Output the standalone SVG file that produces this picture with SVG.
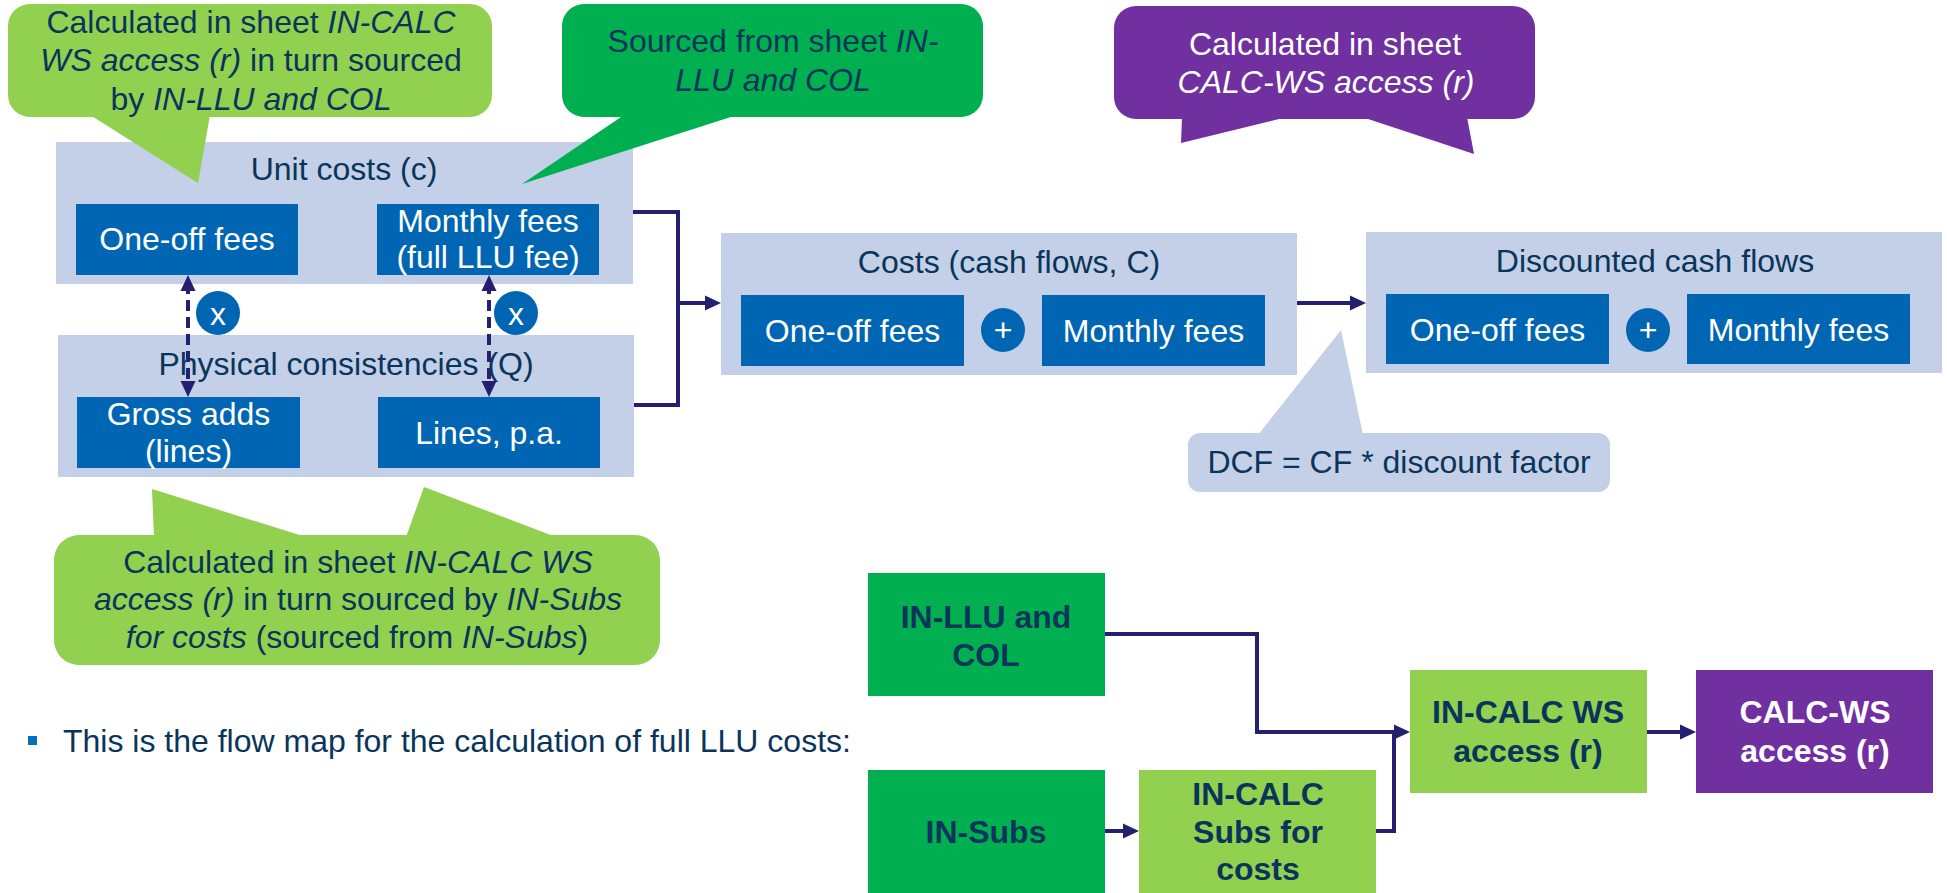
<svg xmlns="http://www.w3.org/2000/svg" width="1947" height="893" viewBox="0 0 1947 893">
  <style>
    text { font-family: "Liberation Sans", Arial, sans-serif; font-size: 32px; text-anchor: middle; }
    .dk { fill: #0a355b; }
    .wt { fill: #ffffff; }
    .b { font-weight: bold; }
    .i { font-style: italic; }
    .panel { fill: #c4cfe8; }
    .blue { fill: #0066b3; }
    .lgreen { fill: #92d050; }
    .green { fill: #00b050; }
    .purple { fill: #7030a0; }
    .link { fill: none; stroke: #241f6f; stroke-width: 4; }
    .dash { stroke-dasharray: 11 6; }
  </style>
  <defs>
    <marker id="arrow" markerUnits="userSpaceOnUse" viewBox="0 0 16 16" refX="8" refY="8" markerWidth="16" markerHeight="16" orient="auto-start-reverse">
      <path d="M0,0.5 L16,8 L0,15.5 Z" fill="#241f6f"/>
    </marker>
  </defs>

  <!-- Unit costs panel -->
  <g id="unit-costs">
    <rect class="panel" x="56" y="142" width="577" height="142"/>
    <text class="dk" x="344" y="180">Unit costs (c)</text>
    <rect class="blue" x="76" y="204" width="222" height="71"/>
    <text class="wt" x="187" y="250">One-off fees</text>
    <rect class="blue" x="377" y="204" width="222" height="71"/>
    <text class="wt" x="488" y="232">Monthly fees</text>
    <text class="wt" x="488" y="268">(full LLU fee)</text>
  </g>

  <!-- Physical consistencies panel -->
  <g id="physical-consistencies">
    <rect class="panel" x="58" y="335" width="576" height="142"/>
    <text class="dk" x="346" y="375">Physical consistencies (Q)</text>
    <rect class="blue" x="77" y="397" width="223" height="71"/>
    <text class="wt" x="188.5" y="425">Gross adds</text>
    <text class="wt" x="188.5" y="462">(lines)</text>
    <rect class="blue" x="378" y="397" width="222" height="71"/>
    <text class="wt" x="489" y="444">Lines, p.a.</text>
  </g>

  <!-- Costs panel -->
  <g id="costs">
    <rect class="panel" x="721" y="233" width="576" height="142"/>
    <text class="dk" x="1009" y="273">Costs (cash flows, C)</text>
    <rect class="blue" x="741" y="295" width="223" height="71"/>
    <text class="wt" x="852.5" y="342">One-off fees</text>
    <circle class="blue" cx="1003" cy="330" r="22"/>
    <text class="wt" x="1003" y="341">+</text>
    <rect class="blue" x="1042" y="295" width="223" height="71"/>
    <text class="wt" x="1153.5" y="342">Monthly fees</text>
  </g>

  <!-- Discounted cash flows panel -->
  <g id="discounted-cash-flows">
    <rect class="panel" x="1366" y="232" width="576" height="141"/>
    <text class="dk" x="1655" y="272">Discounted cash flows</text>
    <rect class="blue" x="1386" y="294" width="223" height="70"/>
    <text class="wt" x="1497.5" y="341">One-off fees</text>
    <circle class="blue" cx="1648" cy="330" r="22"/>
    <text class="wt" x="1648" y="341">+</text>
    <rect class="blue" x="1687" y="294" width="223" height="70"/>
    <text class="wt" x="1798.5" y="341">Monthly fees</text>
  </g>

  <!-- Bottom flow of sheets -->
  <g id="in-llu-col">
    <rect class="green" x="868" y="573" width="237" height="123"/>
    <text class="dk b" x="986" y="628">IN-LLU and</text>
    <text class="dk b" x="986" y="666">COL</text>
  </g>
  <g id="in-subs">
    <rect class="green" x="868" y="770" width="237" height="123"/>
    <text class="dk b" x="986" y="843">IN-Subs</text>
  </g>
  <g id="in-calc-subs">
    <rect class="lgreen" x="1139" y="770" width="237" height="123"/>
    <text class="dk b" x="1258" y="805">IN-CALC</text>
    <text class="dk b" x="1258" y="843">Subs for</text>
    <text class="dk b" x="1258" y="880">costs</text>
  </g>
  <g id="in-calc-ws">
    <rect class="lgreen" x="1410" y="670" width="237" height="123"/>
    <text class="dk b" x="1528" y="723">IN-CALC WS</text>
    <text class="dk b" x="1528" y="762">access (r)</text>
  </g>
  <g id="calc-ws">
    <rect class="purple" x="1696" y="670" width="237" height="123"/>
    <text class="wt b" x="1815" y="723">CALC-WS</text>
    <text class="wt b" x="1815" y="762">access (r)</text>
  </g>

  <!-- Connectors -->
  <g id="connectors">
    <path class="link" d="M633,212 H678 V405 H634"/>
    <path class="link" d="M678,303 H713" marker-end="url(#arrow)"/>
    <path class="link" d="M1297,303 H1358" marker-end="url(#arrow)"/>
    <path class="link dash" d="M188,283 V389" marker-start="url(#arrow)" marker-end="url(#arrow)"/>
    <path class="link dash" d="M489,283 V389" marker-start="url(#arrow)" marker-end="url(#arrow)"/>
    <path class="link" d="M1105,634 H1257 V732 H1402" marker-end="url(#arrow)"/>
    <path class="link" d="M1376,831 H1394 V732"/>
    <path class="link" d="M1105,831 H1131" marker-end="url(#arrow)"/>
    <path class="link" d="M1647,732 H1688" marker-end="url(#arrow)"/>
  </g>

  <!-- Multiplication markers -->
  <g id="times-left">
    <circle class="blue" cx="218" cy="313" r="22"/>
    <text class="wt" x="218" y="325">x</text>
  </g>
  <g id="times-right">
    <circle class="blue" cx="516" cy="313" r="22"/>
    <text class="wt" x="516" y="325">x</text>
  </g>

  <!-- Callouts -->
  <g id="note-unit-one-off">
    <rect class="lgreen" x="8" y="4" width="484" height="113" rx="22"/>
    <polygon class="lgreen" points="90,115 198,183 210,115"/>
    <text class="dk" x="251" y="33">Calculated in sheet <tspan class="i">IN-CALC</tspan></text>
    <text class="dk" x="251" y="71"><tspan class="i">WS access (r)</tspan> in turn sourced</text>
    <text class="dk" x="251" y="110">by <tspan class="i">IN-LLU and COL</tspan></text>
  </g>
  <g id="note-unit-monthly">
    <rect class="green" x="562" y="4" width="421" height="113" rx="22"/>
    <polygon class="green" points="624,115 522,184 737,115"/>
    <text class="dk" x="773" y="52">Sourced from sheet <tspan class="i">IN-</tspan></text>
    <text class="dk i" x="773" y="91">LLU and COL</text>
  </g>
  <g id="note-costs">
    <rect class="purple" x="1114" y="6" width="421" height="113" rx="22"/>
    <polygon class="purple" points="1182,117 1181,143 1287,117"/>
    <polygon class="purple" points="1362,117 1474,154 1467,117"/>
    <text class="wt" x="1325" y="55">Calculated in sheet</text>
    <text class="wt i" x="1326" y="93">CALC-WS access (r)</text>
  </g>
  <g id="note-quantities">
    <rect class="lgreen" x="54" y="535" width="606" height="130" rx="25"/>
    <polygon class="lgreen" points="154,537 152,489 306,537"/>
    <polygon class="lgreen" points="406,537 424,487 556,537"/>
    <text class="dk" x="358" y="573">Calculated in sheet <tspan class="i">IN-CALC WS</tspan></text>
    <text class="dk" x="358" y="610"><tspan class="i">access (r)</tspan> in turn sourced by <tspan class="i">IN-Subs</tspan></text>
    <text class="dk" x="357" y="648"><tspan class="i">for costs</tspan> (sourced from <tspan class="i">IN-Subs</tspan>)</text>
  </g>
  <g id="note-dcf">
    <rect class="panel" x="1188" y="433" width="422" height="59" rx="12"/>
    <polygon class="panel" points="1258,435 1341,330 1363,435"/>
    <text class="dk" x="1399" y="473">DCF = CF * discount factor</text>
  </g>

  <!-- Bullet line -->
  <g id="bullet">
    <rect x="28" y="736" width="9" height="9" fill="#0070c0"/>
    <text class="dk" x="63" y="752" style="text-anchor: start">This is the flow map for the calculation of full LLU costs:</text>
  </g>
</svg>
